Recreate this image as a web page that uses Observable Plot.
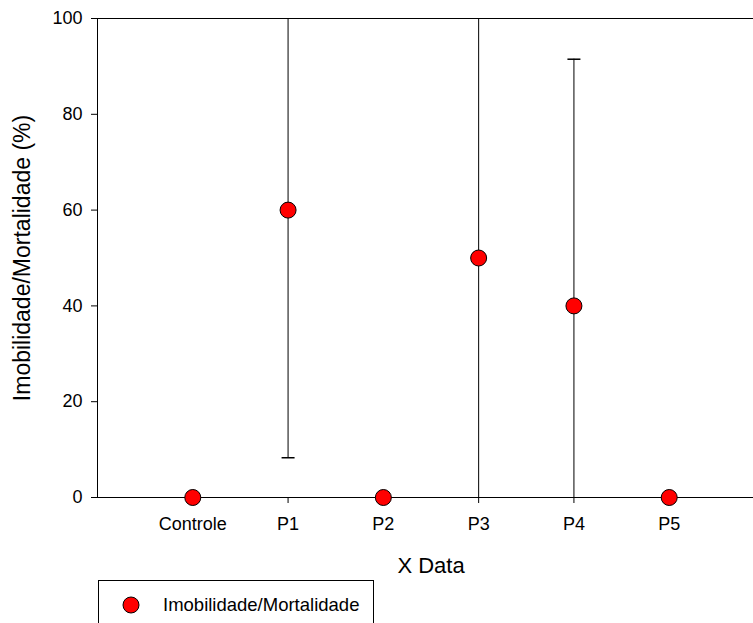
<!DOCTYPE html>
<html>
<head>
<meta charset="utf-8">
<script src="https://cdn.jsdelivr.net/npm/d3@7"></script>
<script src="https://cdn.jsdelivr.net/npm/@observablehq/plot@0.6"></script>
<style>
  html, body { margin: 0; padding: 0; background: white; overflow: hidden; }
  #chart { width: 753px; overflow: hidden; }
  #chart svg [aria-label="y-axis label"] text { font-size: 23px; }
  #chart svg [aria-label="x-axis label"] text { font-size: 22px; }
  #legend {
    position: relative; margin-left: 98px; width: 274px; height: 60px;
    border: 1px solid black; font-family: "Liberation Sans", Arial, sans-serif;
  }
  #legend svg { position: absolute; left: 23px; top: 15px; }
  #legend span { position: absolute; left: 64px; top: 14px; font-size: 18.5px; line-height: 20px; white-space: nowrap; }
</style>
</head>
<body>
<div id="chart"></div>
<div id="legend">
  <svg width="18" height="18"><circle cx="9" cy="9" r="8" fill="#ff0000" stroke="black" stroke-width="1"></circle></svg>
  <span>Imobilidade/Mortalidade</span>
</div>
<script>
const categories = ["Controle", "P1", "P2", "P3", "P4", "P5"];
const means = [0, 60, 0, 50, 40, 0];
const errors = [0, 51.7, 0, 57.7, 51.5, 0];
const yTicks = [0, 20, 40, 60, 80, 100];
const seriesName = "Imobilidade/Mortalidade";

const data = categories.map((c, i) => ({
  cat: c, pos: i + 1, mean: means[i], err: errors[i],
  lo: means[i] - errors[i], hi: means[i] + errors[i]
}));
const withErr = data.filter(d => d.err > 0);
const caps = withErr.flatMap(d => [{pos: d.pos, v: d.lo}, {pos: d.pos, v: d.hi}]);

const capSymbol = {
  draw(ctx, size) { ctx.moveTo(-6.5, 0); ctx.lineTo(6.5, 0); }
};

const chart = Plot.plot({
  width: 764,
  height: 580,
  marginLeft: 97,
  marginRight: 0,
  marginTop: 18,
  marginBottom: 83,
  style: {fontFamily: "'Liberation Sans', Arial, sans-serif", fontSize: "18px", background: "white", color: "black", maxWidth: "none"},
  x: {domain: [0, 7]},
  y: {domain: [0, 100]},
  marks: [
    Plot.frame({stroke: "black", strokeWidth: 1}),
    Plot.axisY({ticks: yTicks, tickSize: 6, tickPadding: 9, fontSize: 18,
      label: "Imobilidade/Mortalidade (%)", labelAnchor: "center", labelOffset: 84, labelArrow: "none"}),
    Plot.axisX({ticks: categories.map((c, i) => i + 1), tickFormat: v => categories[v - 1],
      tickSize: 6, tickPadding: 14, fontSize: 18,
      label: "X Data", labelAnchor: "center", labelOffset: 75, labelArrow: "none"}),
    Plot.ruleX(withErr, {x: "pos", y1: "lo", y2: "hi", stroke: "black", strokeWidth: 1, clip: true}),
    Plot.dot(caps, {x: "pos", y: "v", symbol: capSymbol, stroke: "black", strokeWidth: 1.5, fill: "none", clip: true}),
    Plot.dot(data, {x: "pos", y: "mean", r: 8, fill: "#ff0000", stroke: "black", strokeWidth: 1})
  ]
});
document.getElementById("chart").appendChild(chart);
</script>
</body>
</html>
